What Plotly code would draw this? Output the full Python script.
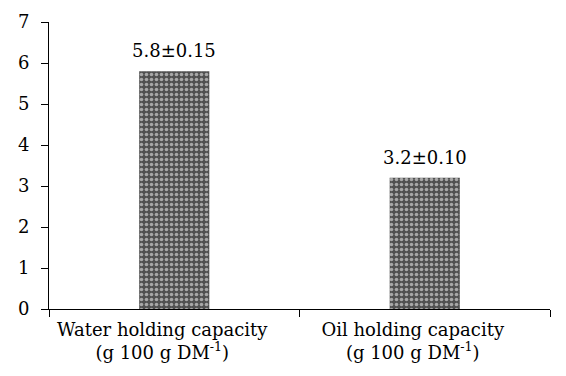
import plotly.graph_objects as go

categories = ["Water holding capacity<br>(g 100 g DM<sup>-1</sup>)",
              "Oil holding capacity<br>(g 100 g DM<sup>-1</sup>)"]
values = [5.8, 3.2]
errors = ["0.15", "0.10"]
y_ticks = [0, 1, 2, 3, 4, 5, 6, 7]

labels = [f"{v}±{e}" for v, e in zip(values, errors)]

FONT = "DejaVu Serif"

fig = go.Figure()
fig.add_trace(go.Bar(
    x=categories,
    y=values,
    width=0.28,
    marker=dict(
        color="#505050",
        line=dict(width=0),
        pattern=dict(shape=".", fgcolor="white", bgcolor="#505050",
                     size=5, solidity=0.4, fillmode="overlay"),
    ),
))

for cat, v, lab in zip(categories, values, labels):
    fig.add_annotation(x=cat, y=v, text=lab, showarrow=False,
                       yanchor="bottom", yshift=8,
                       font=dict(family=FONT, size=18, color="black"))

fig.update_layout(
    width=566, height=376,
    margin=dict(l=49, r=16, t=22, b=67),
    paper_bgcolor="white", plot_bgcolor="white",
    showlegend=False,
    font=dict(family=FONT, size=18, color="black"),
    xaxis=dict(
        range=[-0.5, 1.5],
        showline=True, linecolor="black", linewidth=1,
        ticks="outside", ticklen=7, tickcolor="black",
        tickson="boundaries",
        ticklabelshift=-12,
        ticklabelstandoff=4,
        showgrid=False, zeroline=False,
        tickfont=dict(family=FONT, size=18, color="black"),
    ),
    yaxis=dict(
        range=[0, 7],
        tickvals=y_ticks,
        showline=True, linecolor="black", linewidth=1,
        ticks="outside", ticklen=7, tickcolor="black",
        ticklabelstandoff=8,
        showgrid=False, zeroline=False,
        tickfont=dict(family=FONT, size=18, color="black"),
    ),
)

fig.write_html("out.html")
